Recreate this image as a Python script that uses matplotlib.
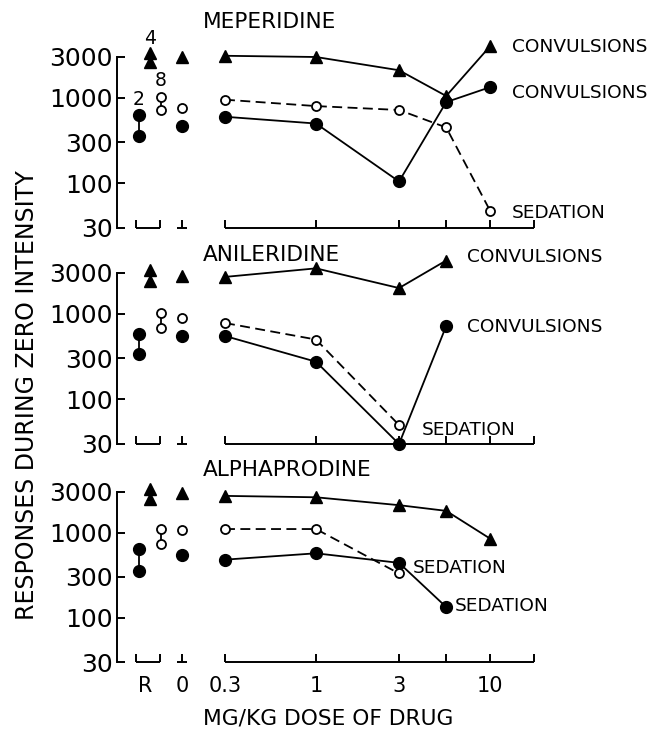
import numpy as np
import matplotlib
matplotlib.use('Agg')
import matplotlib.pyplot as plt
from matplotlib.ticker import NullLocator, FixedLocator

plt.rcParams['font.family'] = 'DejaVu Sans'

# --- data (responses during zero intensity) ---
doses = [0.3, 1, 3, 5.6, 10]          # mg/kg
drugs = ['MEPERIDINE', 'ANILERIDINE', 'ALPHAPRODINE']

# R column: two values per symbol, one row per drug
r_filled = [[630, 360], [580, 340], [640, 350]]
r_tri = [[3300, 2600], [3250, 2400], [3250, 2450]]
r_open = [[1020, 720], [1020, 680], [1100, 730]]
r_counts = ['2', '4', '8']

# zero dose
zero_tri = [3000, 2750, 2900]
zero_open = [760, 900, 1070]
zero_filled = [470, 550, 545]

# dose response curves
mep_tri = [3100, 3000, 2100, 1050, 4000]
mep_open = [950, 800, 720, 450, 48]
mep_filled = [600, 500, 105, 890, 1330]

ani_tri = [2700, 3400, 2000, 4200]
ani_open = [780, 500, 50]
ani_filled = [550, 275, 30, 720]

alp_tri = [2700, 2600, 2100, 1800, 850]
alp_open = [1100, 1100, 330]
alp_filled = [480, 570, 440, 133]

curves = [(mep_tri, mep_open, mep_filled),
          (ani_tri, ani_open, ani_filled),
          (alp_tri, alp_open, alp_filled)]

# curve labels (text, x, y in axes fraction)
notes = [
    [('CONVULSIONS', 0.722, 1.058), ('CONVULSIONS', 0.722, 0.789), ('SEDATION', 0.722, 0.088)],
    [('CONVULSIONS', 0.640, 1.094), ('CONVULSIONS', 0.640, 0.684), ('SEDATION', 0.558, 0.082)],
    [('SEDATION', 0.541, 0.553), ('SEDATION', 0.618, 0.329)],
]

# --- layout ---
W, H = 664, 733
fig = plt.figure(figsize=(W / 100, H / 100), dpi=100)
panels_px = [(57, 228), (273, 444), (492, 662)]

lx = np.log10(doses)
x_R = {'filled': -1.02, 'tri': -0.955, 'open': -0.89}
x_R_label = -0.983
x_zero = -0.77
x_end = np.log10(18)

lw = 1.3
ms_fill = 8.5
ms_open = 6.5
ms_tri = 8


def draw(ax, xs, ys, kind, ls='-'):
    if kind == 'filled':
        ax.plot(xs, ys, color='k', lw=lw, ls=ls, marker='o', ms=ms_fill,
                mfc='k', mec='k', clip_on=False, zorder=3)
    elif kind == 'open':
        ax.plot(xs, ys, color='k', lw=lw, ls=ls, marker='o', ms=ms_open,
                mfc='white', mec='k', mew=1.3, clip_on=False, zorder=4)
    else:
        ax.plot(xs, ys, color='k', lw=lw, ls=ls, marker='^', ms=ms_tri,
                mfc='k', mec='k', clip_on=False, zorder=3)


for i, (top, bot) in enumerate(panels_px):
    ax = fig.add_axes([117 / W, 1 - bot / H, 547 / W, (bot - top) / H])
    ax.set_yscale('log')
    ax.set_ylim(30, 3000)
    ax.set_xlim(-1.1437, 2.0)
    for s in ['top', 'right', 'bottom']:
        ax.spines[s].set_visible(False)
    ax.spines['left'].set_linewidth(1.4)

    ax.yaxis.set_major_locator(FixedLocator([30, 100, 300, 1000, 3000]))
    ax.yaxis.set_minor_locator(NullLocator())
    ax.set_yticklabels(['30', '100', '300', '1000', '3000'])
    ax.tick_params(axis='y', direction='in', length=6, width=1.4,
                   labelsize=18, pad=3)

    # bottom axis pieces
    xt = ax.get_xaxis_transform()
    for a, b in [(-1.034, -0.897), (-0.80, -0.742), (np.log10(0.3), x_end)]:
        ax.plot([a, b], [0, 0], color='k', lw=1.4, transform=xt,
                clip_on=False, solid_capstyle='butt')
    ax.xaxis.remove_overlapping_locs = False
    ax.xaxis.set_minor_locator(FixedLocator([-1.034, -0.897, x_zero] + list(lx) + [x_end]))
    ax.xaxis.set_major_locator(FixedLocator([x_R_label, x_zero, lx[0], lx[1], lx[2], lx[4]]))
    ax.set_xticklabels(['R', '0', '0.3', '1', '3', '10'])
    ax.tick_params(axis='x', which='minor', direction='in', length=6, width=1.4)
    ax.tick_params(axis='x', which='major', length=0, labelsize=15, pad=10,
                   labelbottom=(i == 2))

    # R and zero columns
    draw(ax, [x_R['filled']] * 2, r_filled[i], 'filled')
    draw(ax, [x_R['tri']] * 2, r_tri[i], 'tri')
    draw(ax, [x_R['open']] * 2, r_open[i], 'open')
    draw(ax, [x_zero], [zero_tri[i]], 'tri')
    draw(ax, [x_zero], [zero_open[i]], 'open')
    draw(ax, [x_zero], [zero_filled[i]], 'filled')

    # dose response
    tri, opn, fil = curves[i]
    draw(ax, lx[:len(tri)], tri, 'tri')
    ax.plot(lx[:len(opn)], opn, color='k', lw=lw, ls=(0, (5.5, 3)), zorder=2,
            clip_on=False)
    draw(ax, lx[:len(opn)], opn, 'open', ls='none')
    draw(ax, lx[:len(fil)], fil, 'filled')

    title_y = [1.205, 1.105, 1.129][i]
    ax.text(0.157, title_y, drugs[i], transform=ax.transAxes, fontsize=15.6,
            ha='left', va='center')
    for txt, x, y in notes[i]:
        ax.text(x, y, txt, transform=ax.transAxes, fontsize=13.3,
                ha='left', va='center')

    if i == 0:
        for txt, key, vals, dy in [(r_counts[0], 'filled', r_filled[0], 11),
                                   (r_counts[1], 'tri', r_tri[0], 11),
                                   (r_counts[2], 'open', r_open[0], 12)]:
            ax.annotate(txt, (x_R[key], vals[0]), xytext=(0, dy),
                        textcoords='offset points', ha='center', va='center',
                        fontsize=13.5, annotation_clip=False)

fig.text(27 / W, 1 - 395 / H, 'RESPONSES DURING ZERO INTENSITY', rotation=90,
         ha='center', va='center', fontsize=17)
fig.text(328 / W, 1 - 718 / H, 'MG/KG DOSE OF DRUG', ha='center', va='center',
         fontsize=15.7)

fig.savefig('out.png', dpi=100)
